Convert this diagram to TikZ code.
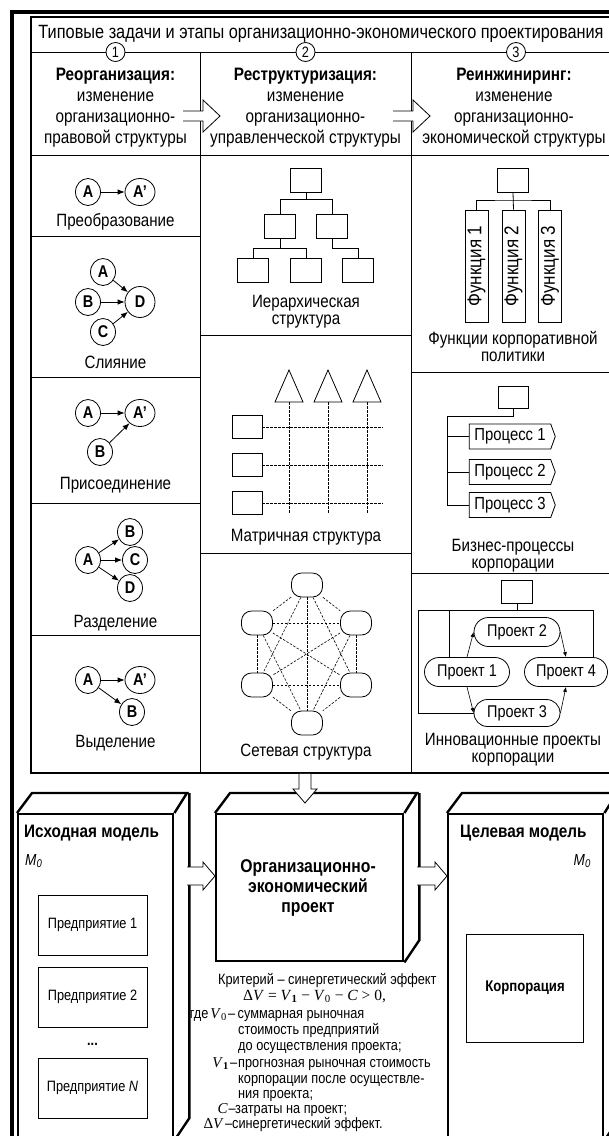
\documentclass[tikz,border=0pt]{standalone}
\usepackage{fontspec}
\setmainfont{Liberation Sans}[FakeStretch=0.85]
\newfontfamily\tms{Liberation Serif}
\usetikzlibrary{arrows.meta,shapes.symbols,shapes.misc,shapes.geometric}
\newcommand\setfs[2]{\fontsize{#1pt}{#2pt}\selectfont}
\begin{document}
\begin{tikzpicture}[x=1pt,y=-1pt,
  every node/.style={inner sep=0pt},
  ln/.style={line width=0.8pt},
  numc/.style={circle,draw,fill=white,line width=0.8pt,minimum size=19pt,font=\setfs{15}{15}},
  stagetxt/.style={align=center,font=\setfs{18}{21}},
  lab/.style={align=center,font=\setfs{17.8}{17.8}},
  letter/.style={ellipse,draw,line width=0.8pt,minimum width=25pt,minimum height=27pt,font=\setfs{17}{17}\bfseries},
  wide/.style={minimum width=30pt},
  arr/.style={-{Latex[length=7pt,width=5.5pt]},line width=0.8pt},
  sarr/.style={-{Latex[length=5pt,width=4pt]},line width=0.6pt},
  sq/.style={draw,line width=0.8pt,minimum width=31pt,minimum height=24pt},
  netn/.style={draw,line width=0.8pt,rounded corners=10pt,minimum width=31pt,minimum height=24pt},
  dline/.style={line width=0.6pt,dash pattern=on 2.5pt off 1.5pt},
  func/.style={draw,line width=0.8pt,rotate=90,minimum width=112pt,minimum height=23pt,font=\setfs{20}{20}},
  proc/.style={signal,signal to=east,signal pointer angle=140,draw,line width=0.8pt,
     minimum width=86pt,minimum height=25pt,font=\setfs{17.5}{17.5}},
  proj/.style={rounded rectangle,draw,line width=0.8pt,minimum width=86pt,minimum height=29pt,font=\setfs{17}{17}},
  blockarr/.style={draw,fill=white,line width=0.8pt,line join=miter},
  box3d/.style={draw,line width=2.4pt,line join=miter},
  inbox/.style={draw,line width=0.8pt,minimum width=109pt,minimum height=60pt,font=\setfs{15}{15}},
  crit/.style={font=\setfs{15}{15}},
]
\clip (0,0) rectangle (609,1136);

% outer frame and table grid
\draw[line width=4pt] (11.5,11.5) rectangle (640,1160);
\draw[line width=1.6pt] (31,17) rectangle (622,773);
\draw[ln] (31,52) -- (622,52);
\draw[ln] (31,155) -- (622,155);
\draw[ln] (200,52) -- (200,773);
\draw[ln] (411,52) -- (411,773);
\foreach \y in {236,377,503,635} \draw[ln] (31,\y) -- (200,\y);
\foreach \y in {335,553} \draw[ln] (200,\y) -- (411,\y);
\foreach \y in {372,573} \draw[ln] (411,\y) -- (622,\y);

% title row and stages
\node[font=\setfs{19.2}{21}] (title) at (321,34) {Типовые задачи и этапы организационно-экономического проектирования};
\node[numc] (s1) at (115.5,52) {1};
\node[numc] (s2) at (305.5,52) {2};
\node[numc] (s3) at (516,52) {3};
\node[stagetxt] (st1) at (115.5,107.5) {\textbf{Реорганизация:}\\изменение\\организационно-\\правовой структуры};
\node[stagetxt] (st2) at (305.5,107.5) {\textbf{Реструктуризация:}\\изменение\\организационно-\\управленческой структуры};
\node[stagetxt] (st3) at (514,107.5) {\textbf{Реинжиниринг:}\\изменение\\организационно-\\экономической структуры};
\draw[blockarr] (183,111) -- (203,111) -- (203,100) -- (220,116) -- (203,132) -- (203,121) -- (183,121);
\draw[blockarr] (393,111) -- (413,111) -- (413,100) -- (430,116) -- (413,132) -- (413,121) -- (393,121);

% column 1: reorganization forms
\node[letter] (pa) at (88,192) {A};
\node[letter,wide] (pb) at (140,192) {A'};
\draw[arr] (pa) -- (pb);
\node[lab] at (115.5,222) {Преобразование};

\node[letter] (ma) at (103,272) {A};
\node[letter] (mb) at (88,302) {B};
\node[letter,minimum width=30pt,minimum height=31pt] (md) at (140,302) {D};
\node[letter] (mc) at (103,332) {C};
\draw[arr] (ma) -- (md);
\draw[arr] (mb) -- (md);
\draw[arr] (mc) -- (md);
\node[lab] at (115.5,362) {Слияние};

\node[letter] (ja) at (88,413) {A};
\node[letter,wide] (jb) at (140,413) {A'};
\node[letter] (jc) at (100,452) {B};
\draw[arr] (ja) -- (jb);
\draw[arr] (jc) -- (jb);
\node[lab] at (115.5,485) {Присоединение};

\node[letter] (da) at (88,560) {A};
\node[letter] (db) at (130,532) {B};
\node[letter] (dc) at (135,560) {C};
\node[letter] (dd) at (130,588) {D};
\draw[arr] (da) -- (db);
\draw[arr] (da) -- (dc);
\draw[arr] (da) -- (dd);
\node[lab] at (115.5,623) {Разделение};

\node[letter] (ea) at (88,680) {A};
\node[letter,wide] (eb) at (140,680) {A'};
\node[letter] (ec) at (132,712) {B};
\draw[arr] (ea) -- (eb);
\draw[arr] (ea) -- (ec);
\node[lab] at (115.5,743) {Выделение};

% column 2: hierarchy
\node[sq] (h0) at (306,180) {};
\node[sq] (h1) at (280,226) {};
\node[sq] (h2) at (332,226) {};
\node[sq] (h3) at (253,270) {};
\node[sq] (h4) at (306,270) {};
\node[sq] (h5) at (358,270) {};
\coordinate (hj0) at (306,199);
\coordinate (hj1) at (280,248);
\coordinate (hj2) at (332,248);
\draw[ln] (h0.south) -- (hj0) -| (h1.north);
\draw[ln] (hj0) -| (h2.north);
\draw[ln] (h1.south) -- (hj1) -| (h3.north);
\draw[ln] (hj1) -| (h4.north);
\draw[ln] (h2.south) -- (hj2) -| (h5.north);
\node[lab] at (306,311.5) {Иерархическая\\[-1pt]структура};

% column 2: matrix
\foreach \i/\x in {1/289,2/328,3/367}{
  \coordinate (tb\i) at (\x,402);
  \draw[ln,line join=miter] (tb\i) ++(-14,0) -- ++(14,-32) -- ++(14,32) -- cycle;
  \draw[dline] (tb\i) -- ++(0,111);
}
\foreach \i/\y in {1/427,2/465,3/503}{
  \node[sq,minimum width=30pt,minimum height=23pt] (mq\i) at (247,\y) {};
  \draw[dline] (mq\i.east) -- ++(121,0);
}
\node[lab] at (306,537) {Матричная структура};

% column 2: network
\node[netn] (n1) at (307,585) {};
\node[netn] (n2) at (257,623) {};
\node[netn] (n3) at (356,623) {};
\node[netn] (n4) at (257,685) {};
\node[netn] (n5) at (356,685) {};
\node[netn] (n6) at (307,723) {};
\foreach \a/\b in {1/2,1/3,1/4,1/5,1/6,2/3,2/4,2/5,2/6,3/4,3/5,3/6,4/5,4/6,5/6}
  \draw[dline] (n\a) -- (n\b);
\node[lab] at (306,752) {Сетевая структура};

% column 3: functions
\node[sq] (f0) at (513,180) {};
\node[func] (f1) at (476.5,266) {Функция 1};
\node[func] (f2) at (513.5,266) {Функция 2};
\node[func] (f3) at (550,266) {Функция 3};
\coordinate (fj) at (513,200);
\draw[ln] (f0.south) -- (f2.east);
\draw[ln] (f1.east) |- (fj) -| (f3.east);
\node[lab] at (513,346.5) {Функции корпоративной\\[-1pt]политики};

% column 3: business processes
\node[sq,minimum width=30pt,minimum height=22pt] (b0) at (513,397) {};
\node[proc] (pr1) at (510,436.5) {Процесс 1};
\node[proc] (pr2) at (510,472) {Процесс 2};
\node[proc] (pr3) at (510,505) {Процесс 3};
\coordinate (bv) at (447,416);
\draw[ln] (b0.south) |- (bv) |- (pr3.west);
\draw[ln] (bv |- pr1.west) -- (pr1.west);
\draw[ln] (bv |- pr2.west) -- (pr2.west);
\node[lab] at (513,556) {Бизнес-процессы\\[-1pt]корпорации};

% column 3: innovation projects
\node[sq,minimum width=31pt,minimum height=23pt] (i0) at (517,592) {};
\node[proj] (p2) at (517,632) {Проект 2};
\node[proj,minimum width=85pt] (p1) at (467,672) {Проект 1};
\node[proj,minimum width=83pt] (p4) at (566,672) {Проект 4};
\node[proj,minimum height=27pt] (p3) at (517,713) {Проект 3};
\coordinate (oTL) at (418,610);
\coordinate (oTR) at (593,610);
\coordinate (oIn) at (449,610);
\draw[ln] (i0.south) -- (i0.south |- oTL);
\draw[ln] (p3.west) -| (oTL) -- (oTR) -- (oTR |- p4.north);
\draw[ln] (oIn) -- (oIn |- p1.north);
\draw[sarr] (p1.north) -- (p2.west);
\draw[sarr] (p2.east) -- (p4.north);
\draw[sarr] (p1.south) -- (p3.west);
\draw[sarr] (p3.east) -- (p4.south);
\node[lab] at (513,750) {Инновационные проекты\\[-1pt]корпорации};

% source model
\node[box3d,anchor=north west,minimum width=155pt,minimum height=325pt] (src) at (17,813) {};
\draw[box3d] (src.north west) -- ++(15,-20) -- ++(155,0) -- (src.north east);
\draw[box3d] (src.north east) ++(15,-20) -- ++(0,325) -- (src.south east);
\node[anchor=west,font=\setfs{18}{18}\bfseries] (srct) at (24,833) {Исходная модель};
\node[anchor=west,font=\setfs{16}{16}\itshape] (srcm) at (25,861) {M\textsubscript{0}};
\node[inbox] (e1) at (92.5,925) {Предприятие 1};
\node[inbox] (e2) at (92.5,997) {Предприятие 2};
\node[font=\setfs{15}{15}\bfseries] (edots) at (92.5,1044) {...};
\node[inbox] (e3) at (92.5,1088) {Предприятие \textit{N}};

% project box
\node[box3d,anchor=north west,minimum width=187pt,minimum height=147pt] (prj) at (215,813) {};
\draw[box3d] (prj.north west) -- ++(15,-20) -- ++(187,0) -- (prj.north east);
\draw[box3d] (prj.north east) ++(15,-20) -- ++(0,147) -- (prj.south east);
\node[align=center,font=\setfs{18.5}{20}\bfseries] (prjt) at (308,888) {Организационно-\\экономический\\проект};

% target model
\node[box3d,anchor=north west,minimum width=155pt,minimum height=325pt] (tgt) at (447,813) {};
\draw[box3d] (tgt.north west) -- ++(15,-20) -- ++(155,0) -- (tgt.north east);
\draw[box3d] (tgt.north east) ++(15,-20) -- ++(0,325) -- (tgt.south east);
\node[anchor=west,font=\setfs{18}{18}\bfseries] (tgtt) at (460,833) {Целевая модель};
\node[anchor=east,font=\setfs{16}{16}\itshape] (tgtm) at (591,861) {M\textsubscript{0}};
\node[inbox,minimum width=117pt,minimum height=108pt,font=\setfs{15.5}{15.5}\bfseries] (corp) at (525,988) {Корпорация};

% block arrows between models
\draw[blockarr] (187,867) -- (203,867) -- (203,862) -- (215,876) -- (203,890) -- (203,885) -- (187,885);
\draw[blockarr] (417,867) -- (435,867) -- (435,862) -- (447,876) -- (435,890) -- (435,885) -- (417,885);
\draw[blockarr] (299,773.8) -- (299,789) -- (293,789) -- (305,803) -- (317,789) -- (311,789) -- (311,773.8);

% synergy criterion
\node[crit,anchor=base west] at (218,984) {Критерий – синергетический эффект};
\node[anchor=base west,font=\tms\setfs{15.5}{15.5}] at (243,1000) {Δ\textit{V} = \textit{V}\textsubscript{\textbf{1}} − \textit{V}\textsubscript{0} − \textit{C} > 0,};
\node[crit,anchor=base east] at (227,1018) {где\hspace{2pt}{\tms\textit{V}\textsubscript{0}}};
\node[crit,anchor=base west] at (228,1018) {–};
\node[crit,anchor=base west] at (237.5,1018) {суммарная рыночная};
\node[crit,anchor=base west] at (238,1034) {стоимость предприятий};
\node[crit,anchor=base west] at (238,1050) {до осуществления проекта;};
\node[crit,anchor=base east] at (229,1067) {{\tms\textit{V}\textsubscript{\textbf{1}}}};
\node[crit,anchor=base west] at (230,1067) {–};
\node[crit,anchor=base west] at (238,1067) {прогнозная рыночная стоимость};
\node[crit,anchor=base west] at (238,1083) {корпорации после осуществле-};
\node[crit,anchor=base west] at (238,1098) {ния проекта;};
\node[crit,anchor=base east] at (228,1113) {{\tms\textit{C}}};
\node[crit,anchor=base west] at (228.5,1113) {–};
\node[crit,anchor=base west] at (235,1113) {затраты на проект;};
\node[crit,anchor=base east] at (224,1128) {{\tms Δ\textit{V}}};
\node[crit,anchor=base west] at (225,1128) {–};
\node[crit,anchor=base west] at (232,1128) {синергетический эффект.};
\end{tikzpicture}
\end{document}
